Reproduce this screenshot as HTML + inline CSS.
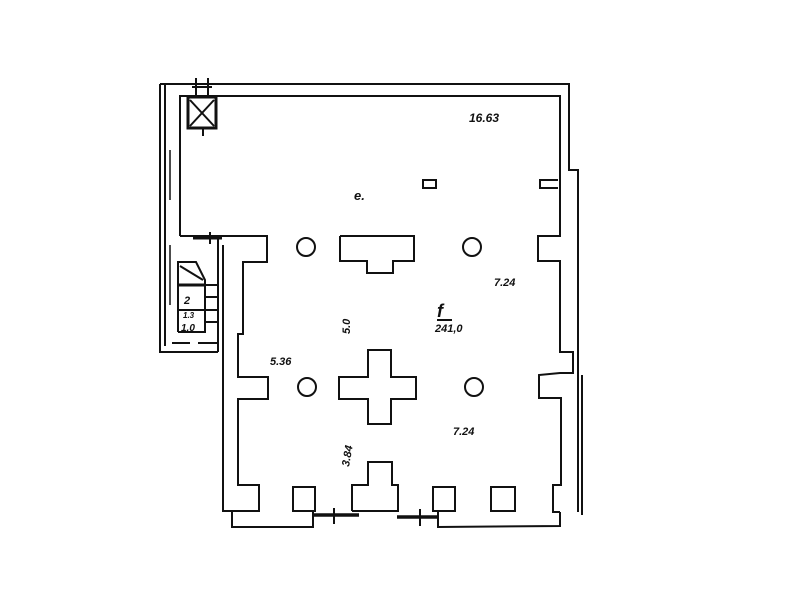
<!DOCTYPE html>
<html><head><style>
html,body{margin:0;padding:0;background:#fff;width:800px;height:600px;overflow:hidden}
svg{display:block}
text{font-family:"Liberation Sans",sans-serif;font-style:italic;font-weight:bold;fill:#111}
</style></head><body>
<svg width="800" height="600" viewBox="0 0 800 600" xmlns="http://www.w3.org/2000/svg">
<g fill="none" stroke="#111" stroke-width="2" stroke-linejoin="miter">
<!-- outer walls -->
<polyline points="160,84 569,84 569,170 578,170 578,512"/>
<line x1="582" y1="375" x2="582" y2="515"/>
<polyline points="160,84 160,352 218,352"/>
<line x1="165" y1="84" x2="165" y2="346"/>
<line x1="170" y1="150" x2="170" y2="200" stroke-width="1.5"/>
<line x1="170" y1="245" x2="170" y2="305" stroke-width="1.5"/>
<line x1="172" y1="343" x2="190" y2="343"/><line x1="198" y1="343" x2="218" y2="343"/>
<line x1="218" y1="236" x2="218" y2="352"/>
<line x1="223" y1="245" x2="223" y2="512"/>
<!-- inner upper room -->
<polyline points="180,236 180,96 560,96 560,236 538,236 538,261 560,261 560,352 573,352 573,373 560,373 539,375 539,398 561,398 561,485 553,485 553,512 560,512"/>
<polyline points="180,236 267,236 267,262 243,262 243,334 238,334 238,377 268,377 268,399 238,399 238,485 259,485 259,511 223,511"/>
<!-- bottom -->
<polyline points="232,512 232,527 313,527 313,512"/>
<polyline points="438,512 438,527 560,526 560,512"/>
<line x1="313" y1="515" x2="359" y2="515" stroke-width="3.5"/>
<line x1="334" y1="508" x2="334" y2="524"/>
<line x1="397" y1="517" x2="438" y2="517" stroke-width="3.5"/>
<line x1="420" y1="509" x2="420" y2="526"/>
<polyline points="352,511 352,485 368,485 368,462 392,462 392,485 398,485 398,511 352,511"/>
<rect x="293" y="487" width="22" height="24"/>
<rect x="433" y="487" width="22" height="24"/>
<rect x="491" y="487" width="24" height="24"/>
<!-- columns -->
<circle cx="306" cy="247" r="9"/><circle cx="472" cy="247" r="9"/>
<circle cx="307" cy="387" r="9"/><circle cx="474" cy="387" r="9"/>
<polyline points="340,236 414,236 414,261 393,261 393,273 367,273 367,261 340,261 340,236"/>
<polygon points="368,350 391,350 391,377 416,377 416,399 391,399 391,424 368,424 368,399 339,399 339,377 368,377"/>
<rect x="423" y="180" width="13" height="8"/>
<polyline points="558,180 540,180 540,188 558,188"/>
<!-- elevator -->
<rect x="188" y="97" width="28" height="31" stroke-width="3"/>
<line x1="190" y1="100" x2="214" y2="126"/><line x1="214" y1="100" x2="190" y2="126"/>
<line x1="196" y1="78" x2="196" y2="96"/><line x1="208" y1="78" x2="208" y2="96"/>
<line x1="192" y1="87" x2="212" y2="87"/>
<line x1="203" y1="128" x2="203" y2="136"/>
<line x1="193" y1="238" x2="222" y2="238" stroke-width="3"/>
<line x1="210" y1="232" x2="210" y2="244"/>
<!-- stairs -->
<polyline points="178,332 178,262 196,262 205,280 205,332 178,332"/>
<line x1="180" y1="266" x2="203" y2="280"/>
<line x1="178" y1="285" x2="205" y2="285" stroke-width="3"/>
<line x1="178" y1="310" x2="205" y2="310"/>
<line x1="205" y1="285" x2="218" y2="285"/><line x1="205" y1="297" x2="218" y2="297"/>
<line x1="205" y1="310" x2="218" y2="310"/><line x1="205" y1="322" x2="218" y2="322"/>
</g>
<text x="184" y="304" font-size="11">2</text>
<text x="183" y="318" font-size="8">1.3</text>
<text x="181" y="331" font-size="10">1.0</text>
<text x="469" y="122" font-size="12">16.63</text>
<text x="354" y="200" font-size="13">e.</text>
<text x="494" y="286" font-size="11">7.24</text>
<text x="437" y="317" font-size="18">f</text>
<line x1="437" y1="320" x2="452" y2="320" stroke="#111" stroke-width="2"/>
<text x="435" y="332" font-size="11">241,0</text>
<text x="0" y="0" font-size="11" transform="translate(350,334) rotate(-90)">5.0</text>
<text x="270" y="365" font-size="11">5.36</text>
<text x="453" y="435" font-size="11">7.24</text>
<text x="0" y="0" font-size="11" transform="translate(349,467) rotate(-80)">3.84</text>
</svg>
</body></html>
